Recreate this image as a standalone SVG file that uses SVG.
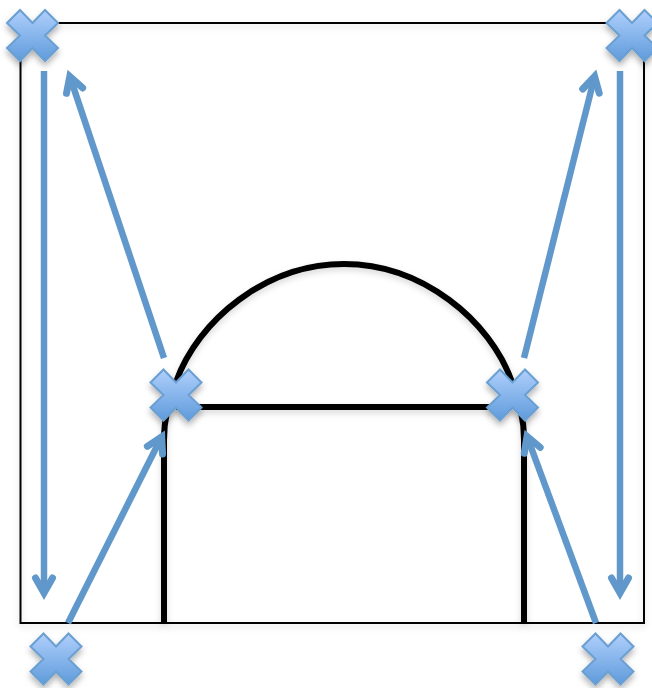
<svg xmlns="http://www.w3.org/2000/svg" width="652" height="688" viewBox="0 0 652 688">
<style>
.frame{fill:none;stroke:#000;stroke-width:2}
.thick{fill:none;stroke:#000;stroke-width:6}
.arrow{fill:none;stroke:#6198cb;stroke-width:6.500;marker-end:url(#head)}
.cross{fill:url(#blue);stroke:#6a9fd1;stroke-width:2;stroke-linejoin:miter}
</style>
<defs>
<linearGradient id="blue" x1="0" y1="0" x2="0" y2="1">
<stop offset="0" stop-color="#afcffc"/>
<stop offset="1" stop-color="#5f9bdb"/>
</linearGradient>
<filter id="shadow" x="-30%" y="-30%" width="160%" height="170%">
<feDropShadow dx="0" dy="4" stdDeviation="3" flood-color="#000" flood-opacity="0.3"/>
</filter>
<filter id="lineShadow" x="-5%" y="-5%" width="110%" height="110%">
<feDropShadow dx="0" dy="3" stdDeviation="3" flood-color="#000" flood-opacity="0.16"/>
</filter>
<marker id="head" markerUnits="userSpaceOnUse" markerWidth="44" markerHeight="44" refX="24" refY="22" orient="auto" overflow="visible">
<path d="M9,13.500 L24,22 L9,30.500" fill="none" stroke="#6198cb" stroke-width="7" stroke-linecap="round" stroke-linejoin="miter"/>
</marker>
<path id="x" d="M-25.500,-12.500 L-12.500,-25.500 L0,-12.500 L12.500,-25.500 L25.500,-12.500 L12.500,0 L25.500,12.500 L12.500,25.500 L0,12.500 L-12.500,25.500 L-25.500,12.500 L-12.500,0 Z"/>
</defs>
<g id="shape" filter="url(#lineShadow)">
<rect class="frame" x="20.500" y="23" width="623.500" height="600"/>
<path class="thick" d="M164,623 V440 C164,415 170,400 176,382 C198,320 266,264 344,264 C422,264 490,320 512,382 C518,400 524,415 524,440 V623"/>
<path class="thick" d="M176,407 H512"/>
</g>
<g id="connectors">
<path class="arrow" d="M44,71 V593"/>
<path class="arrow" d="M620,71 V593"/>
<path class="arrow" d="M164,358 L69.800,76.400"/>
<path class="arrow" d="M524,358 L594.600,76.500"/>
<path class="arrow" d="M68,623 L161.700,436.800"/>
<path class="arrow" d="M596,623 L527,436.300"/>
</g>
<g id="node-top-left" filter="url(#shadow)"><use href="#x" class="cross" transform="translate(32.500,35.500)"/></g>
<g id="node-top-right" filter="url(#shadow)"><use href="#x" class="cross" transform="translate(632,35.500)"/></g>
<g id="node-mid-left" filter="url(#shadow)"><use href="#x" class="cross" transform="translate(176,395)"/></g>
<g id="node-mid-right" filter="url(#shadow)"><use href="#x" class="cross" transform="translate(512.500,395)"/></g>
<g id="node-bottom-left" filter="url(#shadow)"><use href="#x" class="cross" transform="translate(56,659)"/></g>
<g id="node-bottom-right" filter="url(#shadow)"><use href="#x" class="cross" transform="translate(608,659)"/></g>
</svg>
